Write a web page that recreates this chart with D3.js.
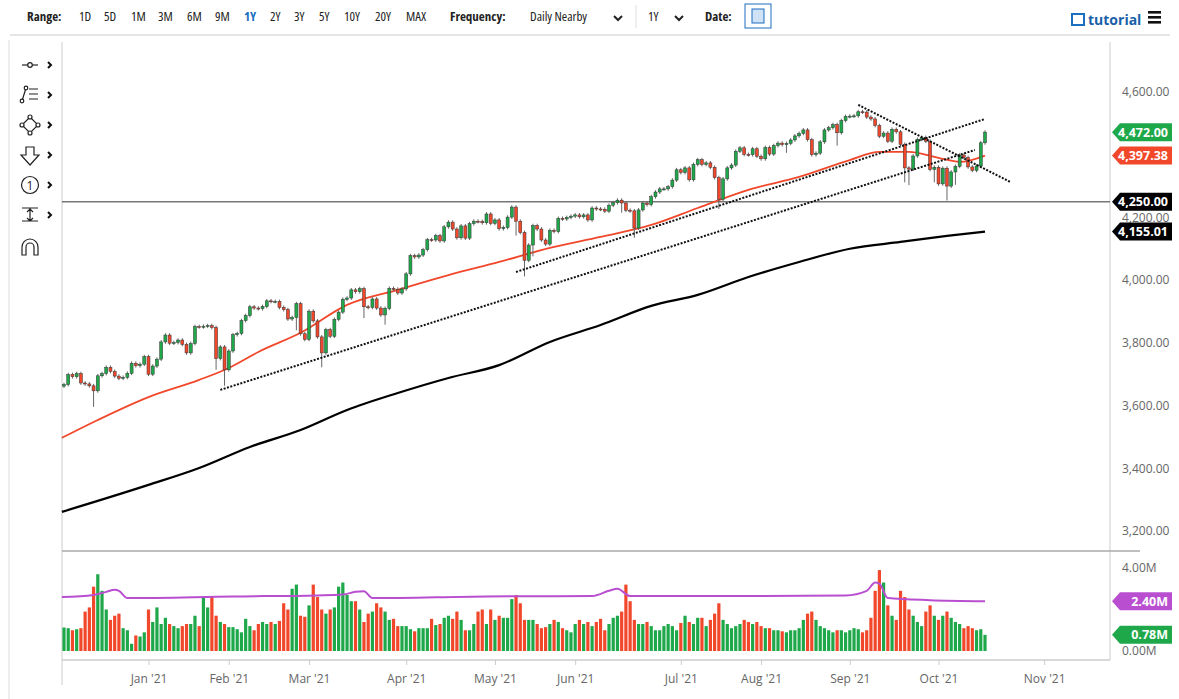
<!DOCTYPE html>
<html><head><meta charset="utf-8">
<script src="https://cdn.jsdelivr.net/npm/d3@7"></script>
<style>body{margin:0;background:#fff;font-family:"Open Sans",sans-serif}</style>
</head><body><svg id="c" width="1179" height="699"></svg>
<script>
// daily closes Dec 3 2020 .. Oct 15 2021
const closes = [
3667,3699,3692,3702,3672,3669,3663,3647,3695,3702,3722,3709,3694,3687,3690,3703,3735,3727,3732,3756,
3700,3726,3748,3803,3825,3799,3801,3809,3795,3768,3798,3852,3851,3853,3855,3849,3750,3787,3714,
3774,3826,3830,3871,3887,3915,3911,3909,3916,3934,3932,3932,3913,3906,3876,3881,3925,3829,3811,
3901,3870,3819,3768,3842,3821,3875,3898,3939,3943,3969,3963,3973,3915,3913,3940,3911,3889,3910,3974,3971,3959,3972,
4020,4078,4074,4080,4097,4129,4128,4142,4125,4170,4185,4163,4135,4173,4134,4180,4188,4187,4183,4211,4181,
4192,4164,4168,4201,4233,4188,4152,4063,4112,4174,4163,4128,4115,4159,4155,4197,4195,4200,4204,4208,
4202,4208,4192,4230,4227,4226,4220,4239,4247,4255,4246,4223,4221,4166,4224,4246,4241,4266,4281,4291,4291,4298,
4319,4352,4343,4358,4320,4369,4384,4369,4374,4360,4327,4258,4323,4358,4367,4411,4422,4401,4400,4419,4395,
4387,4423,4402,4429,4437,4432,4436,4447,4460,4468,4479,4448,4400,4405,4441,4479,4486,4496,4470,4509,4522,4523,
4524,4537,4536,4520,4514,4493,4459,4469,4443,4481,4473,4433,4358,4354,4396,4449,4455,4443,4353,4360,4307,
4357,4300,4345,4363,4399,4391,4361,4350,4364,4438,4472];
const volumes = [
1.13,1.1,1.0,1.05,1.1,1.9,2.1,3.1,3.7,2.9,2.0,1.5,1.7,1.8,1.1,1.0,0.35,0.75,0.7,0.9,
2.0,1.4,2.1,1.3,1.6,1.3,1.2,1.1,1.2,1.3,1.3,1.7,1.2,2.6,2.1,2.6,1.7,1.4,1.3,
1.15,1.15,1.05,0.9,1.55,1.2,1.0,1.3,1.4,1.3,1.4,1.3,1.45,2.3,2.0,3.0,3.2,1.7,1.65,
2.2,3.2,2.6,2.0,1.8,2.0,2.1,3.1,3.3,2.7,2.4,2.4,2.0,1.4,1.8,1.9,2.3,2.1,1.9,1.5,1.55,1.2,1.2,
1.2,1.05,0.95,1.1,1.1,1.1,1.55,1.25,1.3,1.6,1.7,1.55,1.9,1.5,1.0,1.0,1.3,1.9,2.0,1.3,2.0,
1.5,1.7,1.6,1.6,2.5,2.7,2.3,1.5,1.5,1.5,1.3,1.1,1.15,1.3,1.5,1.4,1.1,1.0,0.9,1.3,
1.5,1.3,1.4,1.2,1.4,1.55,1.0,1.3,1.6,1.7,1.9,3.2,2.4,1.5,1.3,1.3,1.4,1.2,1.0,1.0,1.2,1.3,
1.2,1.0,1.35,1.7,1.4,1.3,1.6,1.6,1.2,1.5,1.8,2.3,1.5,1.3,1.1,1.2,1.3,1.5,1.4,1.3,1.4,
1.2,1.1,1.1,1.0,1.0,0.95,0.9,1.0,1.0,1.1,1.5,1.8,1.9,1.5,1.2,1.1,1.0,0.9,1.0,1.0,0.9,1.0,
1.1,1.05,0.9,1.0,1.6,2.9,3.9,3.3,2.2,1.7,1.5,2.9,2.6,2.0,1.7,1.4,1.2,1.9,2.2,1.7,1.5,
1.7,1.9,1.6,1.4,1.3,1.1,1.2,1.1,1.0,1.05,0.78];
// extra lower wicks (index -> points)
const longLows = {7:45,36:30,38:45,55:35,61:40,71:30,76:25,107:40,109:45,111:30,132:25,135:25,155:25,171:20,183:35,199:40,200:45,206:35,209:40,211:35};
// 50-day MA (red) and 200-day MA (black), [index, value]
const ma50 = [[-0.5,3497],[8,3554],[20,3627],[32,3682],[39,3720],[46,3771],[56,3832],[67,3921],[79,3969],[91,4016],[103,4058],[115,4103],[127,4138],[139,4176],[150,4230],[162,4288],[174,4329],[186,4383],[193,4409],[200,4409],[207,4390],[212,4377],[218,4397.38]];
const ma200 = [[-0.5,3261],[20,3347],[32,3401],[44,3468],[56,3522],[67,3586],[79,3640],[91,3688],[103,3729],[115,3803],[127,3857],[139,3918],[150,3953],[162,4010],[174,4058],[186,4100],[198,4122],[209,4141],[218,4155.01]];
const volMA = [[-0.5,2.6],[7,2.7],[10,2.85],[12,2.95],[13,2.9],[15,2.55],[40,2.63],[60,2.68],[66,2.72],[69,2.85],[71,2.88],[73,2.55],[100,2.63],[125,2.65],[129,2.9],[131,3.0],[134,2.65],[160,2.65],[185,2.68],[190,2.9],[192,3.3],[193,3.25],[195,2.55],[205,2.45],[218,2.40]];
const trendLines = [[[37,3650],[215.6,4415]],[[107,4026],[218,4514]],[[188,4559],[224,4313]]];
const monthTicks = [[20,"Jan '21"],[39,"Feb '21"],[58,"Mar '21"],[81,"Apr '21"],[102,"May '21"],[121,"Jun '21"],[146,"Jul '21"],[165,"Aug '21"],[186,"Sep '21"],[207,"Oct '21"],[232,"Nov '21"]];
const priceTicks = [3200,3400,3600,3800,4000,4200,4400,4600];
const volTicks = [0,4];
const rangeBtns = ["1D","5D","1M","3M","6M","9M","1Y","2Y","3Y","5Y","10Y","20Y","MAX"];

const svg = d3.select("#c");
const L=62,R=1110;
const x = d3.scaleLinear().domain([0,218]).range([64,985]);
const y = d3.scaleLinear().domain([3200,4600]).range([531,92]);
const yv = d3.scaleLinear().domain([0,4]).range([651,568]);
const GREEN="#1ea84a", RED="#f1472b";

// toolbar
const tb = svg.append("g").attr("font-size",13).attr("fill","#222").attr("font-stretch","condensed");
tb.append("text").attr("x",27).attr("y",21).attr("font-weight","bold").text("Range:");
const rx=[79,104,131,158,187,215,244,270,294,319,344,375,406];
rangeBtns.forEach((t,i)=>tb.append("text").attr("x",rx[i]).attr("y",21).attr("fill",t==="1Y"?"#1a6fc1":"#222").attr("font-weight",t==="1Y"?"bold":"normal").text(t));
tb.append("text").attr("x",450).attr("y",21).attr("font-weight","bold").text("Frequency:");
tb.append("text").attr("x",530).attr("y",21).text("Daily Nearby");
tb.append("text").attr("x",648).attr("y",21).text("1Y");
tb.append("text").attr("x",705).attr("y",21).attr("font-weight","bold").text("Date:");
[[614,16],[675,16]].forEach(p=>svg.append("path").attr("d",`M${p[0]},${p[1]}l4,4l4,-4`).attr("stroke","#222").attr("stroke-width",2).attr("fill","none"));
svg.append("line").attr("x1",636).attr("x2",636).attr("y1",5).attr("y2",28).attr("stroke","#ddd");
svg.append("rect").attr("x",745).attr("y",4).attr("width",26).attr("height",24).attr("fill","#fff").attr("stroke","#1a6fc1");
svg.append("rect").attr("x",752).attr("y",9).attr("width",12).attr("height",14).attr("fill","#cfe2f6").attr("stroke","#1a6fc1");
svg.append("line").attr("x1",10).attr("x2",1170).attr("y1",35).attr("y2",35).attr("stroke","#ccc");
svg.append("rect").attr("x",1072).attr("y",14).attr("width",12).attr("height",11).attr("fill","none").attr("stroke","#1a6fc1").attr("stroke-width",2);
svg.append("text").attr("x",1088).attr("y",25).attr("font-size",14).attr("font-weight","bold").attr("fill","#1a5fa8").text("tutorial");
[11,16,21].forEach(v=>svg.append("rect").attr("x",1148).attr("y",v).attr("width",13).attr("height",2.6).attr("fill","#111"));

// left tool icons
svg.append("line").attr("x1",9).attr("x2",9).attr("y1",40).attr("y2",699).attr("stroke","#ddd");
const ic = svg.append("g").attr("stroke","#222").attr("fill","none").attr("stroke-width",1.2);
ic.append("path").attr("d","M22,65h16").append("title"); ic.append("circle").attr("cx",30).attr("cy",65).attr("r",2.3).attr("fill","#fff");
ic.append("path").attr("d","M22,101L26,88M29,89h9M29,94h9M29,99h9"); ic.append("circle").attr("cx",22).attr("cy",101).attr("r",1.8).attr("fill","#fff");ic.append("circle").attr("cx",26).attr("cy",88).attr("r",1.8).attr("fill","#fff");
ic.append("path").attr("d","M22,125L30,117L38,125L30,133Z");[[22,125],[30,117],[38,125],[30,133]].forEach(p=>ic.append("circle").attr("cx",p[0]).attr("cy",p[1]).attr("r",2).attr("fill","#fff"));
ic.append("path").attr("d","M26,147h8v8h5l-9,10l-9,-10h5Z");
ic.append("circle").attr("cx",30).attr("cy",185).attr("r",8.5);
svg.append("text").attr("x",30).attr("y",190).attr("text-anchor","middle").attr("font-size",12).attr("fill","#222").text("1");
ic.append("path").attr("d","M22,208h16M22,221h16M30,208v13M27,212l3,-3l3,3M27,218l3,3l3,-3");
ic.append("path").attr("d","M22,255v-8a8,8 0 0 1 16,0v8h-4v-8a4,4 0 0 0 -8,0v8Z");
[65,95,125,155,185,215].forEach(v=>svg.append("path").attr("d",`M48,${v-3}l3,3l-3,3`).attr("stroke","#111").attr("stroke-width",2).attr("fill","none"));

// frame
svg.append("line").attr("x1",L).attr("x2",L).attr("y1",42).attr("y2",685).attr("stroke","#ccc");
svg.append("line").attr("x1",R).attr("x2",R).attr("y1",42).attr("y2",660).attr("stroke","#ccc");
svg.append("line").attr("x1",L).attr("x2",1140).attr("y1",551).attr("y2",551).attr("stroke","#aaa").attr("stroke-width",1.5);
svg.append("line").attr("x1",L).attr("x2",R).attr("y1",660).attr("y2",660).attr("stroke","#ccc").attr("stroke-width",1.5);

// axes
const ya = svg.append("g").attr("transform",`translate(${R},0)`).call(d3.axisRight(y).tickValues(priceTicks).tickSize(0).tickPadding(12).tickFormat(d3.format(",.2f")));
ya.select(".domain").remove(); ya.selectAll("text").attr("font-size",12).attr("fill","#666").attr("font-family","Open Sans");
const va = svg.append("g").attr("transform",`translate(${R},0)`).call(d3.axisRight(yv).tickValues(volTicks).tickSize(0).tickPadding(12).tickFormat(d=>d.toFixed(2)+"M"));
va.select(".domain").remove(); va.selectAll("text").attr("font-size",12).attr("fill","#666").attr("font-family","Open Sans");
const xa = svg.append("g").attr("transform","translate(0,660)").call(d3.axisBottom(x).tickValues(monthTicks.map(d=>d[0])).tickSize(5).tickPadding(9).tickFormat((d,i)=>monthTicks[i][1]));
xa.select(".domain").remove(); xa.selectAll("line").attr("stroke","#ccc"); xa.selectAll("text").attr("font-size",12).attr("fill","#666").attr("font-family","Open Sans");

// horizontal 4250
svg.append("line").attr("x1",L).attr("x2",R).attr("y1",y(4250)).attr("y2",y(4250)).attr("stroke","#777").attr("stroke-width",1.5);

// lines
const line = d3.line().x(d=>x(d[0])).y(d=>y(d[1])).curve(d3.curveMonotoneX);
svg.append("path").attr("d",line(ma200)).attr("stroke","#000").attr("stroke-width",2.2).attr("fill","none");
svg.append("path").attr("d",line(ma50)).attr("stroke","#f1472b").attr("stroke-width",1.8).attr("fill","none");

// candles
const cw = 3;
const candles = closes.map((c,i)=>{const o = i===0?3662:closes[i-1]; return {i,o,c,h:Math.max(o,c)+6,l:Math.min(o,c)-6-(longLows[i]||0)};});
const cg = svg.append("g");
candles.forEach(d=>{
  cg.append("line").attr("x1",x(d.i)).attr("x2",x(d.i)).attr("y1",y(d.h)).attr("y2",y(d.l)).attr("stroke","#666").attr("stroke-width",1);
  const top=y(Math.max(d.o,d.c)), bot=y(Math.min(d.o,d.c));
  cg.append("rect").attr("x",x(d.i)-cw/2).attr("y",top).attr("width",cw).attr("height",Math.max(1,bot-top)).attr("fill",d.c>=d.o?GREEN:RED).attr("stroke","#333").attr("stroke-width",0.5);
});

// trend lines
trendLines.forEach(t=>svg.append("path").attr("d",d3.line().x(d=>x(d[0])).y(d=>y(d[1]))(t)).attr("stroke","#111").attr("stroke-width",2).attr("stroke-dasharray","2,1.5").attr("fill","none"));

// volume
candles.forEach((d,i)=>svg.append("rect").attr("x",x(i)-1.6).attr("y",yv(volumes[i])).attr("width",3.2).attr("height",yv(0)-yv(volumes[i])).attr("fill",d.c>=d.o?GREEN:RED));
svg.append("path").attr("d",d3.line().x(d=>x(d[0])).y(d=>yv(d[1])).curve(d3.curveMonotoneX)(volMA)).attr("stroke","#b94fd0").attr("stroke-width",2).attr("fill","none");

// tags
function tag(yy,txt,col){
  const g=svg.append("g");
  g.append("path").attr("d",`M1112,${yy}l8,-9h52v18h-52Z`).attr("fill",col);
  g.append("text").attr("x",1168).attr("y",yy+4.5).attr("text-anchor","end").attr("font-size",12.5).attr("font-weight","bold").attr("fill","#fff").text(txt);
}
tag(y(4472),"4,472.00",GREEN);
tag(y(4397.38),"4,397.38",RED);
tag(y(4250),"4,250.00","#000");
tag(y(4155.01),"4,155.01","#000");
tag(yv(2.40),"2.40M","#b94fd0");
tag(yv(0.78),"0.78M",GREEN);
</script></body></html>
